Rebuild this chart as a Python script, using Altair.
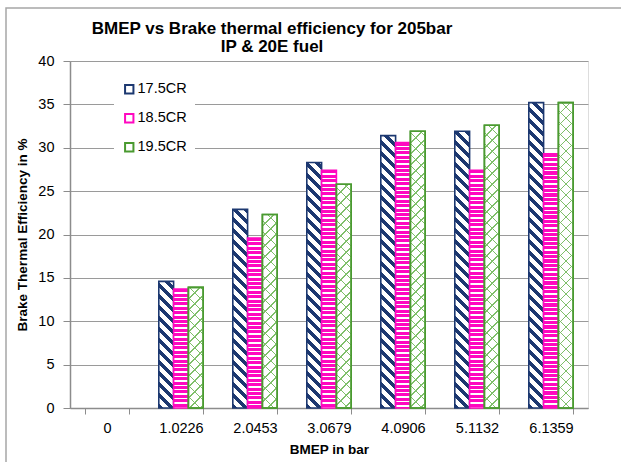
import altair as alt

# BMEP load points (bar) and brake thermal efficiency (%) per compression ratio
bmep = ["0", "1.0226", "2.0453", "3.0679", "4.0906", "5.1132", "6.1359"]
cr_17_5 = [0, 14.6, 22.9, 28.3, 31.4, 31.9, 35.2]
cr_18_5 = [0, 13.7, 19.6, 27.4, 30.6, 27.4, 29.3]
cr_19_5 = [0, 13.9, 22.3, 25.8, 31.9, 32.6, 35.2]

series = ["17.5CR", "18.5CR", "19.5CR"]
series_values = [cr_17_5, cr_18_5, cr_19_5]
colors = ["#1c3870", "#ff08c0", "#4a9a30"]

# plot geometry used to size the hatch patterns
PLOT_W, PLOT_H = 518, 347
Y_MAX = 40
PAD_INNER = 0.4
BAR_W = PLOT_W / len(bmep) * (1 - PAD_INNER) / len(series)


def stripes(period, span, frac, on, off):
    """Sharp-edged stops: `on` for `frac` of each period, `off` otherwise."""
    stops = []
    n = int(span / period) + 2
    for i in range(n):
        a = i * period / span
        b = (i * period + frac * period) / span
        c = (i + 1) * period / span
        if a > 1:
            break
        stops += [
            {"offset": min(a, 1), "color": on},
            {"offset": min(b, 1), "color": on},
            {"offset": min(b, 1), "color": off},
            {"offset": min(c, 1), "color": off},
        ]
    return stops


def diag_down(w, h, period, frac, on, off):
    # stripes running from upper-left to lower-right
    k = (w + h) / (w * w + h * h)
    return {"gradient": "linear", "x1": 0, "y1": 1, "x2": k * w, "y2": 1 - k * h,
            "stops": stripes(period, w + h, frac, on, off)}


def diag_up(w, h, period, frac, on, off):
    # stripes running from lower-left to upper-right
    k = (w + h) / (w * w + h * h)
    return {"gradient": "linear", "x1": 0, "y1": 0, "x2": k * w, "y2": k * h,
            "stops": stripes(period, w + h, frac, on, off)}


def horizontal(h, period, frac, on, off):
    return {"gradient": "linear", "x1": 0, "y1": 0, "x2": 0, "y2": 1,
            "stops": stripes(period, h, frac, on, off)}


rows = []
for name, vals in zip(series, series_values):
    for b, v in zip(bmep, vals):
        h = max(v * PLOT_H / Y_MAX, 1.0)
        if name == "17.5CR":
            fill = diag_down(BAR_W, h, 11, 0.45, "#1c3870", "#ffffff")
            over = None
        elif name == "18.5CR":
            fill = horizontal(h, 4.4, 0.7, "#ff08c0", "#ffffff")
            over = None
        else:
            fill = diag_down(BAR_W, h, 11, 0.14, "#7fbf6a", "#ffffff")
            over = diag_up(BAR_W, h, 11, 0.14, "#7fbf6a", "rgba(255,255,255,0)")
        rows.append({"bmep": b, "series": name, "eff": v, "grad": fill, "grad2": over})

data = alt.Data(values=rows)
FONT = "Liberation Sans"

x_enc = alt.X(
    "bmep:N",
    sort=bmep,
    scale=alt.Scale(domain=bmep, paddingInner=PAD_INNER, paddingOuter=PAD_INNER / 2),
    axis=alt.Axis(
        title="BMEP in bar", titleFontSize=13.5, titleFontWeight="bold", titleFont=FONT,
        titleColor="#000000", titlePadding=8,
        labelAngle=0, labelFontSize=14.5, labelFont=FONT, labelColor="#000000", labelPadding=7,
        tickBand="extent", tickSize=6, tickColor="#8c8c8c", domainColor="#8c8c8c",
        domainWidth=1.5, grid=False,
    ),
)
y_enc = alt.Y(
    "eff:Q",
    stack=None,
    scale=alt.Scale(domain=[0, Y_MAX], nice=False),
    axis=alt.Axis(
        title="Brake Thermal Efficiency in %", titleFontSize=13.5, titleFontWeight="bold",
        titleFont=FONT, titleColor="#000000", titlePadding=8,
        values=list(range(0, 41, 5)), labelFontSize=14.5, labelFont=FONT,
        labelColor="#000000", labelPadding=9,
        tickSize=7, tickColor="#8c8c8c", domainColor="#8c8c8c", domainWidth=1.5,
        gridColor="#9a9a9a", gridWidth=1.2,
    ),
)
xoff = alt.XOffset("series:N", sort=series, scale=alt.Scale(domain=series, paddingInner=0, paddingOuter=0))

bars = alt.Chart(data).transform_filter("datum.eff > 0").mark_bar(strokeWidth=1.6).encode(
    x=x_enc,
    y=y_enc,
    xOffset=xoff,
    fill=alt.Fill("grad:N", scale=None),
    stroke=alt.Stroke(
        "series:N",
        sort=series,
        scale=alt.Scale(domain=series, range=colors),
        legend=alt.Legend(
            title=None, orient="none", legendX=44, legendY=13,
            symbolType="square", symbolSize=70, symbolStrokeWidth=2,
            symbolFillColor="#ffffff", labelFontSize=14.5, labelFont=FONT,
            labelColor="#000000", labelOffset=1, rowPadding=12,
            fillColor="#ffffff", padding=8,
        ),
    ),
)

# second hatch direction for the cross-hatched series
cross = alt.Chart(data).transform_filter(
    "datum.eff > 0 && datum.series == '19.5CR'"
).mark_bar(strokeWidth=1.6, stroke="#4a9a30").encode(
    x=alt.X("bmep:N", sort=bmep),
    y=alt.Y("eff:Q", stack=None),
    xOffset=alt.XOffset("series:N", sort=series),
    fill=alt.Fill("grad2:N", scale=None),
)

# outer chart frame
frame = alt.Chart(alt.Data(values=[{}])).mark_rect(
    fill=None, stroke="#a6a6a6", strokeWidth=1.5
).encode(
    x=alt.value(-64), x2=alt.value(560), y=alt.value(-53), y2=alt.value(420)
)

chart = alt.layer(bars, cross, frame).properties(
    width=PLOT_W,
    height=PLOT_H,
    title=alt.TitleParams(
        text=["BMEP vs Brake thermal efficiency for 205bar", "IP & 20E fuel"],
        font=FONT, fontSize=17, fontWeight="bold", color="#000000",
        anchor="middle", baseline="bottom", dx=-57, dy=74, lineHeight=18, offset=8,
    ),
    autosize=alt.AutoSizeParams(type="none"),
    padding={"left": 70, "top": 61, "right": 33, "bottom": 54},
).configure_view(stroke=None).configure(background="#ffffff")

chart.save("out.html", embed_options={"renderer": "svg", "actions": False})
